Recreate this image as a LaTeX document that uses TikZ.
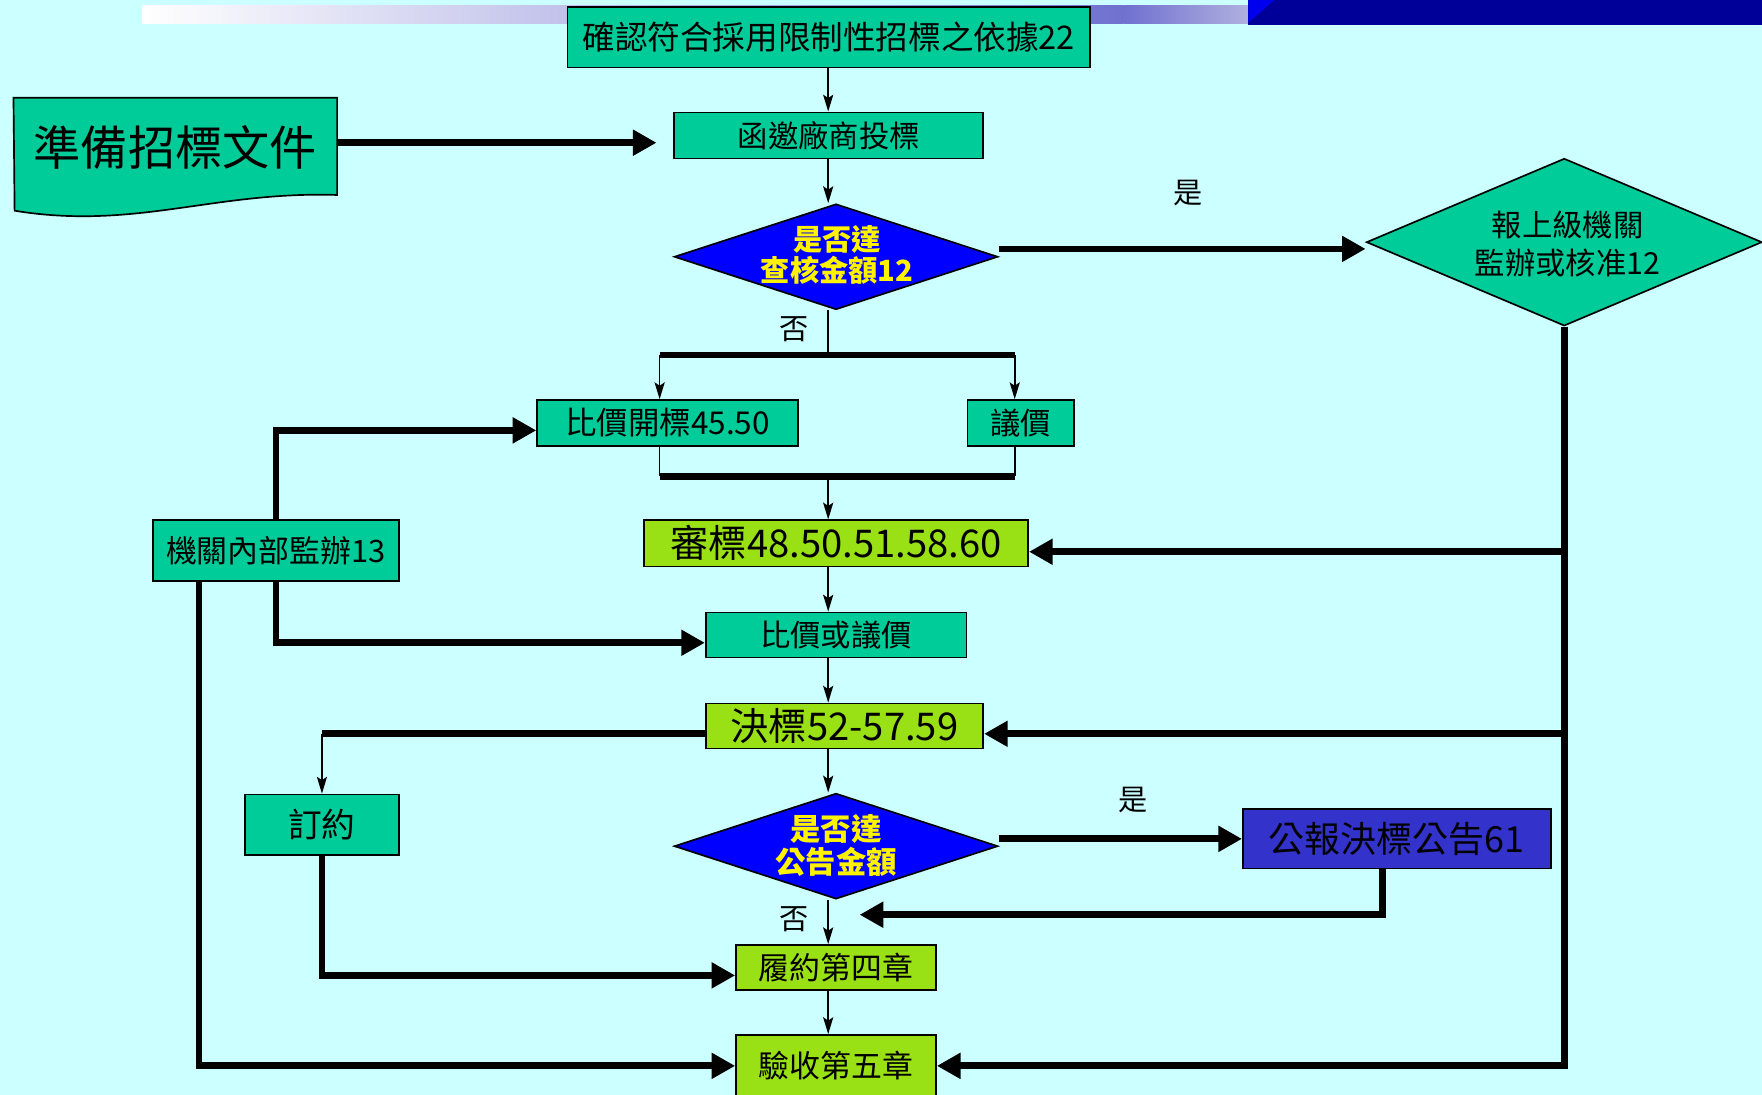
\documentclass[tikz,border=0pt]{standalone}
\usepackage{fontspec}
\setmainfont{Noto Sans CJK TC}
\usetikzlibrary{arrows.meta,shapes.geometric,calc}
\definecolor{bgc}{RGB}{204,255,255}
\definecolor{tealc}{RGB}{0,204,153}
\definecolor{limec}{RGB}{153,224,20}
\definecolor{jbc}{RGB}{51,51,204}
\definecolor{dblue}{RGB}{0,0,153}
\definecolor{bblue}{RGB}{0,0,238}
\definecolor{purp}{RGB}{112,112,208}
\definecolor{lpurp}{RGB}{176,176,224}
\definecolor{dmdblue}{RGB}{0,0,255}
\newcommand{\fsz}[1]{\fontsize{#1}{#1}\selectfont}
\begin{document}
\begin{tikzpicture}[x=1pt,y=-1pt,
  box/.style={draw=black, line width=1.5pt, inner sep=0pt, text=black},
  tealbox/.style={box, fill=tealc},
  limebox/.style={box, fill=limec},
  dmd/.style={diamond, draw=black, line width=1.5pt, inner sep=0pt},
  dtext/.style={text=yellow, align=center, inner sep=0pt},
  lbl/.style={font=\fsz{26}, inner sep=0pt},
  thinline/.style={line width=1.5pt},
  thinarr/.style={line width=1.5pt, -{Stealth[length=15pt,width=9pt,inset=3pt]}},
  bigline/.style={line width=6pt, line join=miter},
  bigarr/.style={line width=6pt, line join=miter, -{Triangle[length=21pt,width=22pt]}}
]
\useasboundingbox (0,0) rectangle (1568,974);
\fill[bgc] (0,0) rectangle (1568,974);
\clip (0,0) rectangle (1568,974);
% header band
\shade[left color=white, right color=purp] (127,5) rectangle (1000,20.5);
\shade[left color=purp, right color=lpurp] (1000,5) rectangle (1111,20.5);
\fill[dblue] (1111,0) rectangle (1568,22);
\fill[bblue] (1111,0) -- (1134,0) -- (1111,20) -- cycle;

\coordinate (ax) at (737,0);

% nodes
\node[tealbox, minimum width=465pt, minimum height=54pt, font=\fsz{29}] (A) at (737.5,33) {確認符合採用限制性招標之依據22};
\node[tealbox, minimum width=275pt, minimum height=41pt, font=\fsz{27}] (B) at (737.5,120.5) {函邀廠商投標};

% document shape
\filldraw[fill=tealc, draw=black, line width=1.5pt] (12,87) -- (300,87) -- (300,173.5)
  .. controls (190,170) and (120,205) .. (13,187.5) -- cycle;
\node[inner sep=0pt, minimum width=288pt, minimum height=80pt, font=\fsz{42}] (doc) at (156,131) {準備招標文件};

\node[dmd, fill=dmdblue, minimum width=288pt, minimum height=94pt] (D1) at (744,228.5) {};
\node[dtext, font=\fsz{26}\bfseries, align=center] (D1t) at (745,227) {是否達\\[2pt]查核金額12};

\node[dmd, fill=tealc, minimum width=352pt, minimum height=149pt] (D2) at (1392,215.5) {};
\node[align=center, inner sep=0pt, font=\fsz{27}] (D2t) at (1395,217) {報上級機關\\[7pt]監辦或核准12};

\node[tealbox, minimum width=232pt, minimum height=41pt, font=\fsz{28}] (C1) at (594,376.5) {比價開標45.50};
\node[tealbox, minimum width=95pt, minimum height=41pt, font=\fsz{27}] (C2) at (908.5,376.5) {議價};

\node[limebox, minimum width=342pt, minimum height=41pt, font=\fsz{34}] (E) at (744,483.5) {審標48.50.51.58.60};
\node[tealbox, minimum width=219pt, minimum height=54pt, font=\fsz{27.5}] (F) at (245.5,490) {機關內部監辦13};
\node[tealbox, minimum width=232pt, minimum height=40pt, font=\fsz{27}] (G) at (744,565) {比價或議價};
\node[limebox, minimum width=247pt, minimum height=40pt, font=\fsz{34}] (H) at (751.5,646) {決標52-57.59};
\node[tealbox, minimum width=137pt, minimum height=54pt, font=\fsz{30}] (I) at (286.5,734) {訂約};

\node[dmd, fill=dmdblue, minimum width=288pt, minimum height=94pt] (D3) at (744,753) {};
\node[dtext, font=\fsz{27}\bfseries, align=center] (D3t) at (744,752.5) {是否達\\[2pt]公告金額};

\node[box, fill=jbc, minimum width=274pt, minimum height=53pt, font=\fsz{32}] (J) at (1243,746.5) {公報決標公告61};
\node[limebox, minimum width=178pt, minimum height=40pt, font=\fsz{27.5}] (K1) at (744,861) {履約第四章};
\node[limebox, minimum width=178pt, minimum height=55pt, font=\fsz{27.5}] (K2) at (744,948.5) {驗收第五章};

% labels
\node[lbl] (y1) at (1057,172) {是};
\node[lbl] (n1) at (707,293) {否};
\node[lbl] (y2) at (1008,712) {是};
\node[lbl] (n2) at (707,818) {否};

% connectors
\draw[thinarr] (ax |- A.south) -- (ax |- B.north);
\draw[thinarr] (ax |- B.south) -- (ax |- D1.north);
\coordinate (docout) at ($(doc.east)+(0,-4)$);
\coordinate (bin) at ($(B.west)+(-15,6.5)$);
\draw[bigarr] (docout) -- (bin);

\coordinate (d1o) at ($(D1.east)+(0,-7)$);
\draw[bigarr] (d1o) -- (d1o -| D2.west);

\coordinate (s1) at (737,316);
\coordinate (b1l) at (587,316);
\coordinate (b1r) at (903,316);
\draw[thinline] (ax |- D1.south) -- (s1);
\draw[bigline] (b1l) -- (b1r);
\draw[thinarr] (b1l) -- (b1l |- C1.north);
\draw[thinarr] (b1r) -- (b1r |- C2.north);

\coordinate (b2l) at (587,424);
\coordinate (b2r) at (903,424);
\draw[thinline] (b1l |- C1.south) -- (b2l);
\draw[thinline] (b1r |- C2.south) -- (b2r);
\draw[bigline] (b2l) -- (b2r);
\draw[thinarr] (ax |- b2l) -- (ax |- E.north);

\draw[bigarr] (F.north) |- ($(C1.west)+(0,6.5)$);
\draw[bigarr] (F.south) |- ($(G.west)+(0,7)$);
\draw[bigarr] ($(F.south)+(-68.5,0)$) |- (K2.west);

\draw[thinarr] (ax |- E.south) -- (ax |- G.north);
\draw[thinarr] (ax |- G.south) -- (ax |- H.north);

\draw[bigarr] (D2.south) |- (K2.east);
\coordinate (eIn) at ($(E.east)+(0,7.5)$);
\draw[bigarr] (D2.south |- eIn) -- (eIn);
\coordinate (hIn) at ($(H.east)+(0,7)$);
\draw[bigarr] (D2.south |- hIn) -- (hIn);

\coordinate (hOut) at ($(H.west)+(0,7)$);
\draw[bigline] (hOut) -- (hOut -| I.north);
\draw[thinarr] (hOut -| I.north) -- (I.north);

\draw[thinarr] (ax |- H.south) -- (ax |- D3.north);
\draw[bigarr] (D3.east |- J.west) -- (J.west);
\coordinate (jr) at ($(J.south)+(-13,0)$);
\coordinate (jt) at (765,814);
\draw[bigarr] (jr) |- (jt);
\draw[thinarr] (ax |- D3.south) -- (ax |- K1.north);
\draw[bigarr] (I.south) |- ($(K1.west)+(0,7)$);
\draw[thinarr] (ax |- K1.south) -- (ax |- K2.north);
\end{tikzpicture}
\end{document}
